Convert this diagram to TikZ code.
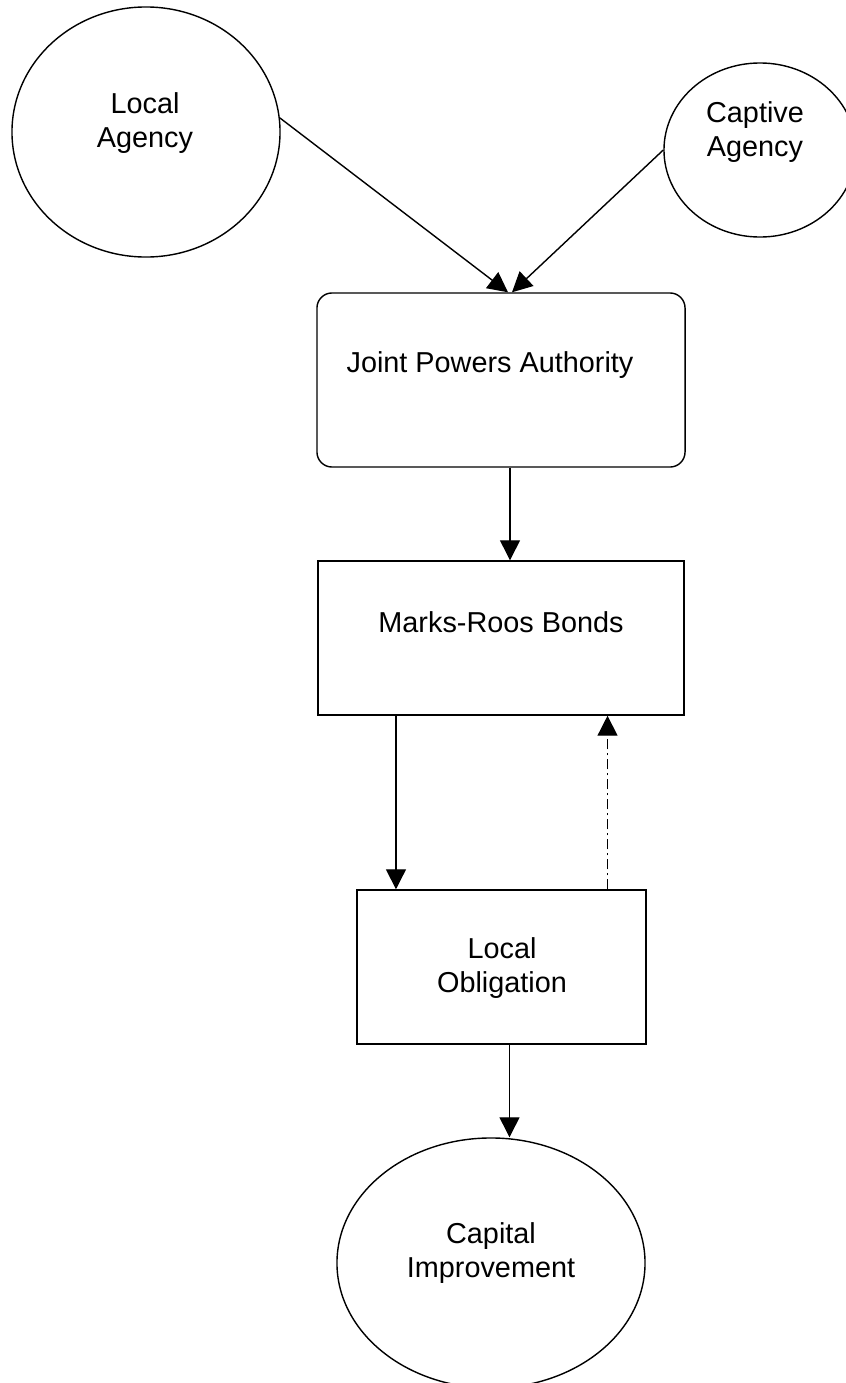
\documentclass[tikz,border=0pt]{standalone}
\usepackage{fontspec}
\setmainfont{Liberation Sans}
\usetikzlibrary{arrows.meta,shapes.geometric}

\begin{document}
\begin{tikzpicture}[>={Triangle[length=0.5cm,width=0.5cm]},line width=1pt,
	schrift/.style={align=center,font=\fontsize{20.5}{24}\selectfont,inner sep=0pt},
	oval/.style={draw,ellipse,inner sep=0pt},
	kasten/.style={draw,rectangle,inner sep=0pt},
	strichpunkt/.style={dash pattern=on 0.25cm off 0.1cm on 0.05cm off 0.1cm}]
\def\ds{0.025}
\def\pos#1#2{({(#1)*\ds},{-(#2)*\ds})}
\useasboundingbox \pos{0}{0} rectangle \pos{846}{1383};
\node[oval,minimum width=6.7cm,minimum height=6.25cm] (lagency) at \pos{146}{132} {};
\node[oval,minimum width=4.8cm,minimum height=4.35cm] (captive) at \pos{760}{150} {};
\node[kasten,rounded corners=0.375cm,minimum width=9.2cm,minimum height=4.35cm] (jpa) at \pos{501}{380} {};
\node[kasten,minimum width=9.15cm,minimum height=3.85cm] (mrb) at \pos{501}{638} {};
\node[kasten,minimum width=7.225cm,minimum height=3.85cm] (lob) at \pos{501.5}{967} {};
\node[oval,minimum width=7.7cm,minimum height=6.25cm] (capimp) at \pos{491}{1263} {};
\node[schrift] (lagencyT) at \pos{145}{123} {Local\\Agency};
\node[schrift] (captiveT) at \pos{755}{132} {Captive\\Agency};
\node[schrift] (jpaT) at \pos{490}{365} {Joint Powers Authority};
\node[schrift] (mrbT) at \pos{501}{622} {Marks-Roos Bonds};
\node[schrift] (lobT) at \pos{502}{968} {Local\\Obligation};
\node[schrift] (capimpT) at \pos{491}{1253} {Capital\\Improvement};
\draw[->] (lagency.6) -- ([xshift=0.175cm]jpa.north);
\draw[->] (captive.west) -- ([xshift=0.275cm]jpa.north);
\draw[->] ([xshift=0.225cm]jpa.south) -- ([xshift=0.225cm]mrb.north);
\draw[->] ([xshift=-2.625cm]mrb.south) -- ([xshift=-2.625cm]mrb.south |- lob.north);
\draw[->,strichpunkt] ([xshift=2.65cm]lob.north) -- ([xshift=2.65cm]lob.north |- mrb.south);
\draw[->] ([xshift=0.2cm]lob.south) -- ([xshift=0.2cm]lob.south |- capimp.north);
\end{tikzpicture}
\end{document}
